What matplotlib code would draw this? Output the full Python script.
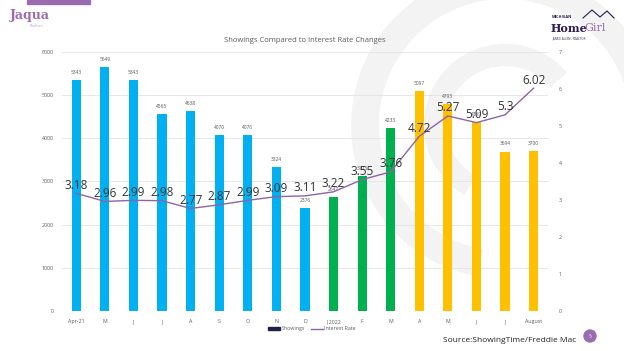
import numpy as np
import matplotlib
matplotlib.use("Agg")
import matplotlib.pyplot as plt
from matplotlib.patches import Arc, Rectangle, Circle
from matplotlib.lines import Line2D
from matplotlib.patches import Patch

# ---------- data ----------
months = ["Apr-21", "M", "J", "J", "A", "S", "O", "N", "D",
          "J 2022", "F", "M", "A", "M", "J", "J", "August"]
showings = [5343, 5649, 5343, 4565, 4638, 4070, 4076, 3324, 2376,
            2647, 3125, 4233, 5097, 4793, 4369, 3694, 3700]
rates = [3.18, 2.96, 2.99, 2.98, 2.77, 2.87, 2.99, 3.09, 3.11,
         3.22, 3.55, 3.76, 4.72, 5.27, 5.09, 5.3, 6.02]
# season groups -> bar colour
groups = ["blue"] * 9 + ["green"] * 3 + ["yellow"] * 5

palette = {"blue": "#00B0F0", "green": "#00B050", "yellow": "#FFC000"}
line_col = "#8E63A8"
txt_gray = "#595959"

plt.rcParams["font.family"] = ["Open Sans", "DejaVu Sans"]

fig = plt.figure(figsize=(6.24, 3.51), dpi=100)

# ---------- background watermark arcs ----------
bg = fig.add_axes([0, 0, 1, 1], zorder=0)
bg.set_xlim(0, 624)
bg.set_ylim(351, 0)
bg.axis("off")
bg.add_patch(Arc((505, 125), 280, 280, theta1=100, theta2=340,
                 color="#F3F3F3", lw=20))
bg.add_patch(Arc((505, 125), 140, 140, theta1=120, theta2=320,
                 color="#F3F3F3", lw=16))
bg.add_patch(Rectangle((27, 0), 63, 4, color="#9B6BB0"))
bg.text(10, 15, "Jaqua", color="#9B6BB0", fontsize=9, fontweight="bold",
        family="DejaVu Serif", va="center")
bg.text(30, 26, "Realtors", color="#B79BC7", fontsize=2.5, va="center")
bg.text(552, 17, "MICHIGAN", color="#2B1B4F", fontsize=2.8, fontweight="bold", va="center")
bg.text(551, 28, "Home", color="#2B1B4F", fontsize=8, fontweight="bold",
        family="DejaVu Serif", va="center")
bg.text(584, 28, "Girl", color="#9B6BB0", fontsize=8, family="DejaVu Serif", va="center")
bg.text(552, 38, "JANICE ALLEN - REALTOR", color="#2B1B4F", fontsize=2.2, va="center")
bg.plot([583, 592, 600, 607, 614], [18, 10, 17, 11, 18], color="#2B1B4F", lw=0.8)
bg.text(443, 340, "Source:ShowingTime/Freddie Mac", color="#222222",
        fontsize=6, va="center")
bg.add_patch(Circle((590, 336), 6, color="#9B6BB0"))
bg.text(590, 336, "5", color="white", fontsize=3.5, ha="center", va="center")

# ---------- main chart ----------
ax = fig.add_axes([0.0994, 0.114, 0.7786, 0.738], zorder=1)
ax.patch.set_alpha(0)
x = np.arange(len(months))
cols = [palette[g] for g in groups]
bars = ax.bar(x, showings, width=0.32, color=cols, zorder=2)
for xi, v in zip(x, showings):
    ax.text(xi, v + 120, str(v), ha="center", va="bottom", fontsize=3.5, color=txt_gray)

ax.set_ylim(0, 6000)
ax.set_xlim(-0.5, len(months) - 0.5)
ax.set_yticks(range(0, 6001, 1000))
ax.set_xticks(x)
ax.set_xticklabels(months)
ax.tick_params(axis="both", length=0, labelsize=3.8, colors=txt_gray, pad=6)
ax.grid(axis="y", color="#E3E3E3", lw=0.6, zorder=0)
for s in ax.spines.values():
    s.set_visible(False)
ax.axhline(0, color="#D0D0D0", lw=0.6, zorder=1)

ax2 = ax.twinx()
ax2.set_ylim(0, 7)
ax2.set_yticks(range(0, 8))
ax2.tick_params(axis="y", length=0, labelsize=3.8, colors=txt_gray, pad=8)
for s in ax2.spines.values():
    s.set_visible(False)
ax2.plot(x, rates, color=line_col, lw=1.0, zorder=3)
for xi, r in zip(x, rates):
    ax2.text(xi, r + 0.22, f"{r:g}", ha="center", va="center", fontsize=8.5, color="#333333")

ax.set_title("Showings Compared to Interest Rate Changes", fontsize=5.5,
             color=txt_gray, pad=7)

handles = [Patch(color="#1F1F4F", label="Showings"),
           Line2D([0], [0], color=line_col, lw=1, label="Interest Rate")]
fig.legend(handles=handles, loc="center", bbox_to_anchor=(0.5, 0.063), ncol=2,
           frameon=False, fontsize=3.8, labelcolor=txt_gray, handlelength=2.2,
           handleheight=0.4, columnspacing=1.2, handletextpad=0.3)

fig.savefig("out.png", dpi=100)
